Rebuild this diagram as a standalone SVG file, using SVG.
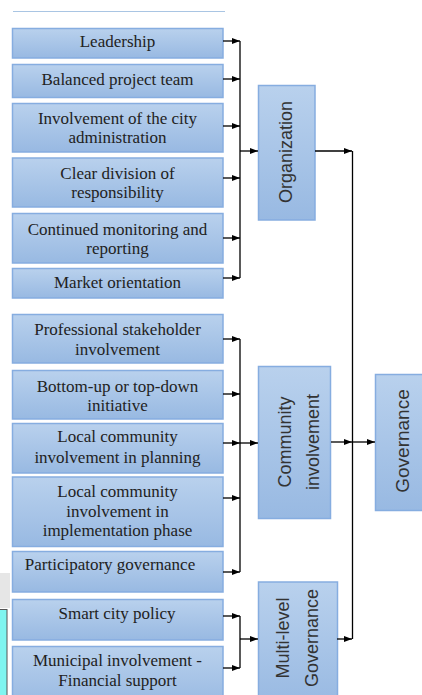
<svg xmlns="http://www.w3.org/2000/svg" width="422" height="695" viewBox="0 0 422 695">
<defs>
<linearGradient id="g" x1="0" y1="0" x2="0" y2="1">
<stop offset="0" stop-color="#b9d1ed"/>
<stop offset="1" stop-color="#98b9e2"/>
</linearGradient>
<marker id="ah" markerWidth="8" markerHeight="6" refX="8" refY="3" orient="auto" markerUnits="userSpaceOnUse">
<path d="M0,0 L8,3 L0,6 Z" fill="#000"/>
</marker>
<style>
.box{fill:url(#g);stroke:#86ade0;stroke-width:1.5}
.t{font-family:"Liberation Serif","Times New Roman",serif;font-size:17px;fill:#222;text-anchor:middle}
.r{font-family:"Liberation Sans",Arial,sans-serif;font-size:18px;fill:#333;text-anchor:middle;dominant-baseline:central}
.c{fill:none;stroke:#000;stroke-width:1.3}
.a{fill:none;stroke:#000;stroke-width:1.3;marker-end:url(#ah)}
</style>
</defs>
<rect width="422" height="695" fill="#fff"/>
<line x1="13" y1="11.5" x2="225" y2="11.5" stroke="#a9c5e3" stroke-width="1"/>
<rect x="0" y="573" width="10" height="35" fill="#e6e6e6"/>
<rect x="-1" y="609.5" width="8" height="90" fill="#7ff5f0" stroke="#555" stroke-width="1"/>

<g id="n-leadership"><rect class="box" x="12.5" y="28.5" width="210.5" height="29.5"/><text class="t" x="117.5" y="46.5">Leadership</text></g>
<g id="n-balanced"><rect class="box" x="12.5" y="64.5" width="210.5" height="33"/><text class="t" x="117.5" y="85">Balanced project team</text></g>
<g id="n-cityadmin"><rect class="box" x="12.5" y="103.5" width="210.5" height="48.5"/><text class="t" x="117.5" y="124">Involvement of the city</text><text class="t" x="117.5" y="143">administration</text></g>
<g id="n-division"><rect class="box" x="12.5" y="158" width="210.5" height="49"/><text class="t" x="117.5" y="178.5">Clear division of</text><text class="t" x="117.5" y="198">responsibility</text></g>
<g id="n-monitoring"><rect class="box" x="12.5" y="213.5" width="210.5" height="49.5"/><text class="t" x="117.5" y="234.5">Continued monitoring and</text><text class="t" x="117.5" y="254">reporting</text></g>
<g id="n-market"><rect class="box" x="12.5" y="268.5" width="210.5" height="29.5"/><text class="t" x="117.5" y="287.5">Market orientation</text></g>

<g id="n-professional"><rect class="box" x="12.5" y="314.5" width="210.5" height="48.5"/><text class="t" x="117.5" y="334.5">Professional stakeholder</text><text class="t" x="117.5" y="354.5">involvement</text></g>
<g id="n-bottomup"><rect class="box" x="12.5" y="370.5" width="210.5" height="48.5"/><text class="t" x="117.5" y="391.5">Bottom-up or top-down</text><text class="t" x="117.5" y="411">initiative</text></g>
<g id="n-planning"><rect class="box" x="12.5" y="423.5" width="210.5" height="49.5"/><text class="t" x="117.5" y="442">Local community</text><text class="t" x="117.5" y="463">involvement in planning</text></g>
<g id="n-implementation"><rect class="box" x="12.5" y="477" width="210.5" height="69.5"/><text class="t" x="117.5" y="497">Local community</text><text class="t" x="117.5" y="516.5">involvement in</text><text class="t" x="117.5" y="535.5">implementation phase</text></g>
<g id="n-participatory"><rect class="box" x="12.5" y="551.5" width="210.5" height="40.5"/><text class="t" x="110" y="570">Participatory governance</text></g>

<g id="n-smartcity"><rect class="box" x="12.5" y="599.5" width="210.5" height="40.5"/><text class="t" x="117" y="619">Smart city policy</text></g>
<g id="n-municipal"><rect class="box" x="12.5" y="646.5" width="210.5" height="60"/><text class="t" x="117.5" y="665.5">Municipal involvement -</text><text class="t" x="117.5" y="685.5">Financial support</text></g>

<g id="n-organization"><rect class="box" x="258.5" y="85.5" width="56.5" height="134.5"/><text class="r" transform="rotate(-90 286 152)" x="286" y="152">Organization</text></g>
<g id="n-community"><rect class="box" x="258.5" y="366.5" width="72" height="152"/><text class="r" transform="rotate(-90 285 442)" x="285" y="442">Community</text><text class="r" transform="rotate(-90 313 442)" x="313" y="442">involvement</text></g>
<g id="n-multilevel"><rect class="box" x="258.5" y="582" width="79" height="125"/><text class="r" transform="rotate(-90 283 638)" x="283" y="638">Multi-level</text><text class="r" transform="rotate(-90 312 638)" x="312" y="638">Governance</text></g>
<g id="n-governance"><rect class="box" x="375.5" y="374.5" width="60" height="136"/><text class="r" style="font-size:19px" transform="rotate(-90 402 441)" x="402" y="441">Governance</text></g>

<g id="connectors">
<line class="a" x1="223" y1="41" x2="240" y2="41"/>
<line class="a" x1="223" y1="79" x2="240" y2="79"/>
<line class="a" x1="223" y1="126" x2="240" y2="126"/>
<line class="a" x1="223" y1="178" x2="240" y2="178"/>
<line class="a" x1="223" y1="238" x2="240" y2="238"/>
<line class="a" x1="223" y1="278" x2="240" y2="278"/>
<line class="c" x1="240" y1="41" x2="240" y2="278"/>
<line class="a" x1="240" y1="151" x2="258" y2="151"/>

<line class="a" x1="223" y1="339" x2="240" y2="339"/>
<line class="a" x1="223" y1="394" x2="240" y2="394"/>
<line class="a" x1="223" y1="443" x2="240" y2="443"/>
<line class="a" x1="223" y1="498" x2="240" y2="498"/>
<line class="a" x1="223" y1="572" x2="240" y2="572"/>
<line class="c" x1="240" y1="339" x2="240" y2="572"/>
<line class="a" x1="240" y1="443" x2="258" y2="443"/>

<line class="a" x1="223" y1="616" x2="240" y2="616"/>
<line class="a" x1="223" y1="668" x2="240" y2="668"/>
<line class="c" x1="240" y1="616" x2="240" y2="668"/>
<line class="a" x1="240" y1="639" x2="258" y2="639"/>

<line class="a" x1="315" y1="151" x2="352" y2="151"/>
<line class="a" x1="331" y1="442" x2="352" y2="442"/>
<line class="a" x1="337" y1="639" x2="352" y2="639"/>
<line class="c" x1="352.5" y1="151" x2="352.5" y2="639"/>
<line class="a" x1="352" y1="442" x2="375" y2="442"/>
</g>
</svg>
